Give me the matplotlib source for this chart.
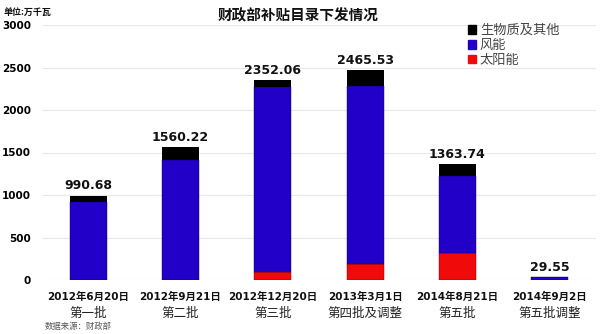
import matplotlib
matplotlib.use("Agg")
import matplotlib.pyplot as plt
from matplotlib.transforms import blended_transform_factory
from matplotlib.patches import Patch

plt.rcParams['font.family'] = ['DejaVu Sans', 'Noto Sans CJK SC']

dates = ["2012年6月20日", "2012年9月21日", "2012年12月20日", "2013年3月1日", "2014年8月21日", "2014年9月2日"]
batches = ["第一批", "第二批", "第三批", "第四批及调整", "第五批", "第五批调整"]
solar = [0, 0, 90, 185, 314, 0]
wind = [915, 1412, 2177, 2097, 910, 29.55]
bio = [75.68, 148.22, 85.06, 183.53, 139.74, 0]
totals = ["990.68", "1560.22", "2352.06", "2465.53", "1363.74", "29.55"]
total_vals = [990.68, 1560.22, 2352.06, 2465.53, 1363.74, 29.55]
yticks = [0, 500, 1000, 1500, 2000, 2500, 3000]

c_solar = "#F00A0A"
c_wind = "#2200C8"
c_bio = "#000000"

W, H = 600, 334
fig = plt.figure(figsize=(6, 3.34), dpi=100)
ax = fig.add_axes([42 / W, 1 - 280 / H, (596 - 42) / W, (280 - 25) / H])

x = list(range(len(dates)))
bw = 0.40
ax.bar(x, solar, width=bw, color=c_solar, edgecolor="#7a0000", linewidth=0.3, zorder=3)
ax.bar(x, wind, width=bw, bottom=solar, color=c_wind, edgecolor="#10005a", linewidth=0.3, zorder=3)
b2 = [s + w for s, w in zip(solar, wind)]
ax.bar(x, bio, width=bw, bottom=b2, color=c_bio, linewidth=0, zorder=3)

for xi, tv, tl in zip(x, total_vals, totals):
    ax.text(xi, tv + 40, tl, ha="center", va="bottom", fontsize=9, fontweight="bold", color="#111111")

ax.set_xlim(-0.5, len(x) - 0.5)
ax.set_ylim(0, 3000)
ax.set_yticks(yticks)
ax.set_yticklabels([str(v) for v in yticks], fontsize=7.5, fontweight="bold")
ax.tick_params(axis="y", length=0, pad=8)
ax.tick_params(axis="x", length=0, labelbottom=False)
ax.grid(axis="y", color="#e8e8e8", linewidth=0.8, zorder=0)
for s in ax.spines.values():
    s.set_visible(False)

tr = blended_transform_factory(ax.transData, fig.transFigure)
for xi, d, b in zip(x, dates, batches):
    ax.text(xi, 1 - 297 / H, d, transform=tr, ha="center", va="center", fontsize=7.5,
            fontweight="bold", color="#111111", family=['DejaVu Sans', 'Noto Sans CJK SC'])
    ax.text(xi, 1 - 313 / H, b, transform=tr, ha="center", va="center", fontsize=9,
            color="#222222", family=['Noto Sans CJK SC', 'DejaVu Sans'])

fig.text(298 / W, 1 - 15 / H, "财政部补贴目录下发情况", ha="center", va="center", fontsize=10.5,
         fontweight="bold", family=['Noto Sans CJK SC', 'DejaVu Sans'], color="#111111")
fig.text(4 / W, 1 - 12 / H, "单位:万千瓦", ha="left", va="center", fontsize=6.5,
         fontweight="bold", family=['Noto Sans CJK SC', 'DejaVu Sans'], color="#111111")
fig.text(45 / W, 1 - 326 / H, "数据来源：财政部", ha="left", va="center", fontsize=6,
         family=['Noto Sans CJK SC', 'DejaVu Sans'], color="#555555")

handles = [Patch(color=c_bio), Patch(color=c_wind), Patch(color=c_solar)]
labels = ["生物质及其他", "风能", "太阳能"]
leg = fig.legend(handles, labels, loc="upper left", bbox_to_anchor=(468 / W, 1 - 24 / H),
                 frameon=False, prop={'family': ['Noto Sans CJK SC', 'DejaVu Sans'], 'size': 9.5},
                 handlelength=0.6, handleheight=0.6, handletextpad=0.3, labelspacing=0.15,
                 borderpad=0, borderaxespad=0)
for t in leg.get_texts():
    t.set_color("#444444")

fig.savefig("out.png", dpi=100)
